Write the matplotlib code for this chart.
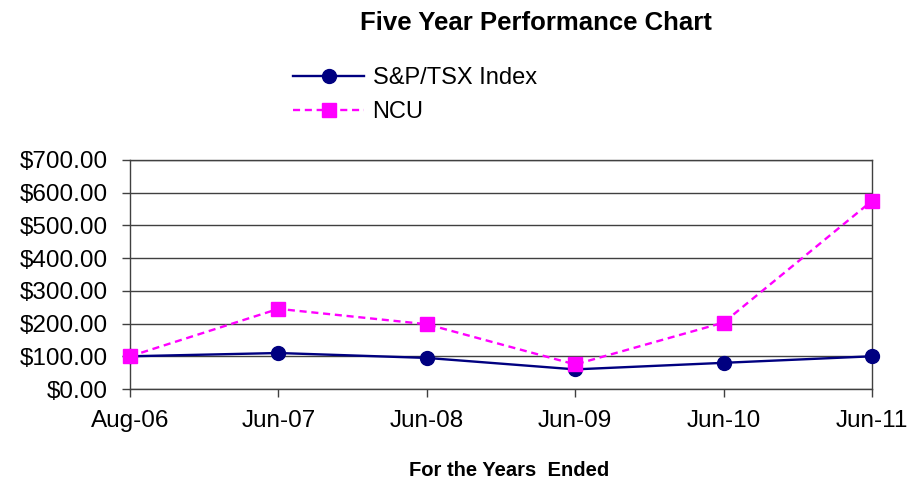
import matplotlib
matplotlib.use("Agg")
import matplotlib.pyplot as plt

plt.rcParams['font.family'] = ['Liberation Sans', 'DejaVu Sans']

periods = ["Aug-06", "Jun-07", "Jun-08", "Jun-09", "Jun-10", "Jun-11"]
sp_tsx = [100, 110, 95, 60, 80, 100]
ncu = [100, 245, 198, 75, 203, 575]
y_ticks = [0, 100, 200, 300, 400, 500, 600, 700]

fig = plt.figure(figsize=(9.11, 4.8), dpi=100)
ax = fig.add_axes([130/911, 91/480, 742/911, 229/480])

x = list(range(len(periods)))
ax.plot(x, sp_tsx, color="#000080", lw=1.7, marker="o", ms=10,
        label="S&P/TSX Index", zorder=3, clip_on=False)
ax.plot(x, ncu, color="#FF00FF", lw=1.7, ls=(0, (3, 2)), marker="s", ms=10,
        label="NCU", zorder=4, clip_on=False)

ax.set_xlim(0, len(periods) - 1)
ax.set_ylim(0, 700)
ax.set_yticks(y_ticks)
ax.set_yticklabels(["${:,.2f}".format(v) for v in y_ticks])
ax.set_xticks(x)
ax.set_xticklabels(periods)
ax.tick_params(labelsize=17.5, length=6, width=1, color="#404040", pad=10)
ax.tick_params(axis="x", pad=9)
ax.yaxis.grid(True, color="#404040", lw=1)
ax.set_axisbelow(True)
for s in ax.spines.values():
    s.set_color("#404040")
    s.set_linewidth(1)

fig.text(536/911, 1 - 23/480, "Five Year Performance Chart", ha="center",
         va="center", fontsize=18.5, fontweight="bold")
fig.text(509/911, 1 - 470/480, "For the Years  Ended", ha="center",
         va="center", fontsize=14.5, fontweight="bold")

fig.legend(loc="upper left", bbox_to_anchor=(284/911, 1 - 58/480),
           frameon=False, fontsize=17, handlelength=3.0, handletextpad=0.35,
           labelspacing=0.5, borderaxespad=0)

fig.savefig("out.png", dpi=100)
